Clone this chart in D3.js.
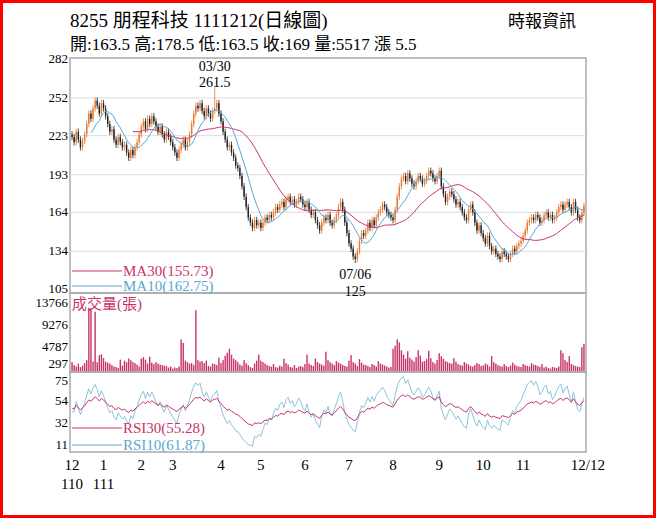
<!DOCTYPE html>
<html><head><meta charset="utf-8">
<script src="https://cdn.jsdelivr.net/npm/d3@7"></script>
<style>body{margin:0;background:#fff}svg text{font-family:"Liberation Serif","Noto Sans CJK TC",serif}</style>
</head><body><div id="chart"></div>
<script>
// daily closes, by month (2021/12/10 .. 2022/12/12)
const closes = [
  222,218,226,220,214,219,224,232,240,236,244,250,246,240,248,
  244,238,232,226,228,220,216,222,218,214,216,210,206,212,208,214,218,224,
  230,234,228,236,232,238,234,230,226,230,224,220,226,222,218,
  214,210,206,212,216,220,214,218,224,232,240,246,244,248,242,238,244,240,236,242,244,248,240,
  234,226,220,214,216,210,206,200,198,192,184,176,168,160,156,152,158,154,156,
  152,156,160,158,162,160,164,168,166,170,172,168,174,176,172,174,170,172,176,174,170,
  168,172,166,162,164,158,154,150,156,160,158,162,156,154,158,162,168,172,166,156,148,
  140,136,130,128,134,142,148,146,150,156,152,158,154,160,164,166,170,168,164,162,160,
  158,166,176,184,190,192,188,194,190,186,184,188,192,190,186,188,192,196,194,190,188,192,
  196,184,178,172,176,180,178,174,170,172,168,164,160,158,166,170,164,156,150,154,148,
  144,140,146,138,134,136,132,130,128,134,132,130,128,132,136,134,138,140,142,
  146,150,156,158,160,158,162,160,156,158,162,164,160,162,158,160,164,168,170,166,170,172,
  168,164,172,166,160,158,163.5,169
];
const volumes = [
  1800,1200,900,1500,800,1100,1600,2200,12800,12700,1900,12000,1800,3200,3400,
  2600,1900,1700,1500,1200,900,800,600,2300,1100,2100,1800,2500,2200,1800,1600,1300,900,
  2500,2800,2300,1500,2900,1700,1400,1800,1500,1300,1200,1100,1000,700,900,
  500,700,600,900,6400,5700,2100,1800,1500,1600,1200,12300,2200,1900,2000,1600,2100,1000,900,1500,1400,1200,2700,
  1600,2200,3100,3700,4500,3300,2500,2200,1800,1300,1100,2200,1600,1200,800,600,1500,2100,3300,
  2100,1800,1500,1200,1000,900,1400,800,700,1100,900,2500,1600,1300,800,700,1200,600,900,1000,800,
  1400,3300,1500,1200,1000,2500,1800,1500,1300,1100,3900,2200,1800,1500,1200,2000,1700,1500,1200,1000,900,
  2100,3200,1800,1500,1000,2400,1700,1300,1200,1000,800,1400,1200,900,2000,1500,1300,1100,900,700,800,
  4500,5100,6400,5800,4200,3300,2500,4000,2700,2300,1900,2800,4200,3100,1900,2000,2400,4100,2600,1800,1500,2200,
  3600,3000,2500,2000,1800,1600,1500,2600,1900,1400,1200,1100,1800,1500,1300,1000,900,1200,1600,1400,1000,
  1100,1500,1300,900,3000,1800,1500,1200,1000,900,1400,1000,800,1100,1700,1300,1000,900,800,
  1400,1200,1000,900,1600,1300,1200,1000,800,1400,700,900,600,500,800,700,600,900,4200,3600,2200,1800,
  3000,1400,1200,1000,900,800,4800,5517
];
const monthLabels = ["12","1","2","3","4","5","6","7","8","9","10","11","12/12"];
const monthStart = [0,15,33,48,71,90,111,132,153,175,196,215,244];
const priceTicks = [282,252,223,193,164,134,105];
const volTicks = [13766,9276,4787,297];
const rsiTicks = [75,54,32,11];

const W = 656, H = 518, L = 70, R = 586;
const svg = d3.select("#chart").append("svg").attr("width", W).attr("height", H);
svg.append("rect").attr("x",1.5).attr("y",1.5).attr("width",W-3).attr("height",H-3).attr("fill","none").attr("stroke","#f00").attr("stroke-width",3);

const n = closes.length;
const x = d3.scaleLinear().domain([-0.5, n - 0.5]).range([L + 1, R - 1]);
const yP = d3.scaleLinear().domain([105, 282]).range([289, 59]);
const yV = d3.scaleLinear().domain([0, 13766]).range([371, 303]);
const yR = d3.scaleLinear().domain([11, 75]).range([445, 379]);

// candles: open from previous close, wicks just beyond body
const candles = closes.map((c, i) => {
  const o = i ? closes[i - 1] : 224;
  return {i, o, c, h: Math.max(o, c) + 2.5, l: Math.min(o, c) - 2.5};
});
candles[68].h = 261.5;
candles[135].l = 125;

function ma(k) { return closes.map((c, i) => i < k - 1 ? null : d3.mean(closes.slice(i - k + 1, i + 1))); }
function rsi(k) {
  const out = []; let up = 2, dn = 2.2;
  for (let i = 1; i < n; i++) {
    const d = closes[i] - closes[i - 1];
    up = (up * (k - 1) + Math.max(d, 0)) / k;
    dn = (dn * (k - 1) + Math.max(-d, 0)) / k;
    out[i] = 100 * up / (up + dn);
  }
  out[0] = out[1];
  return out;
}

// panels
[[58, 293], [293, 372], [372, 452]].forEach(([t, b]) =>
  svg.append("rect").attr("x", L).attr("y", t).attr("width", R - L).attr("height", b - t)
    .attr("fill", "none").attr("stroke", "#aaa").attr("stroke-width", 1.5));
svg.selectAll(".pg").data(priceTicks.slice(1, 6)).join("line")
  .attr("x1", L).attr("x2", R).attr("y1", d => yP(d)).attr("y2", d => yP(d)).attr("stroke", "#ddd");

const tick = (vals, sc, cls) => svg.selectAll("." + cls).data(vals).join("text").attr("class", cls)
  .attr("x", L - 2).attr("y", d => sc(d) + 4).attr("text-anchor", "end").attr("font-size", 13).text(d => d);
tick(priceTicks, yP, "pt"); tick(volTicks, yV, "vt"); tick(rsiTicks, yR, "rt");
svg.selectAll(".vt").filter(d => d === 297).attr("y", 368);
svg.selectAll(".rt").filter(d => d === 75).attr("y", 385);

// candles
const cw = 1.4;
svg.selectAll(".wick").data(candles).join("line")
  .attr("x1", d => x(d.i)).attr("x2", d => x(d.i)).attr("y1", d => yP(d.h)).attr("y2", d => yP(d.l))
  .attr("stroke", d => d.c >= d.o ? "#e8772e" : "#222").attr("stroke-width", 0.8);
svg.selectAll(".body").data(candles).join("rect")
  .attr("x", d => x(d.i) - cw / 2).attr("width", cw)
  .attr("y", d => yP(Math.max(d.o, d.c))).attr("height", d => Math.max(1, Math.abs(yP(d.o) - yP(d.c))))
  .attr("fill", d => d.c >= d.o ? "#e8772e" : "#222");

const line = (sc) => d3.line().defined(d => d[1] != null).x(d => x(d[0])).y(d => sc(d[1]));
svg.append("path").attr("d", line(yP)(ma(30).map((v, i) => [i, v]))).attr("fill", "none").attr("stroke", "#c8336b");
svg.append("path").attr("d", line(yP)(ma(10).map((v, i) => [i, v]))).attr("fill", "none").attr("stroke", "#5aa8d2");

// volume
svg.selectAll(".vol").data(volumes).join("rect")
  .attr("x", (d, i) => x(i) - 0.7).attr("width", 1.4).attr("y", d => yV(d)).attr("height", d => yV(0) - yV(d))
  .attr("fill", "#c8336b");
svg.append("text").attr("x", 72).attr("y", 309).attr("font-size", 15).attr("fill", "#c8336b").text("成交量(張)");

// rsi
svg.append("path").attr("d", line(yR)(rsi(10).map((v, i) => [i, v]))).attr("fill", "none").attr("stroke", "#8cc3dc");
svg.append("path").attr("d", line(yR)(rsi(30).map((v, i) => [i, v]))).attr("fill", "none").attr("stroke", "#c8336b");

// legends
const leg = (y, col, txt) => {
  svg.append("line").attr("x1", 72).attr("x2", 122).attr("y1", y).attr("y2", y).attr("stroke", col);
  svg.append("text").attr("x", 123).attr("y", y + 5).attr("font-size", 15).attr("fill", col).text(txt);
};
leg(271, "#c8336b", "MA30(155.73)");
leg(286, "#5aa8d2", "MA10(162.75)");
leg(428, "#c8336b", "RSI30(55.28)");
leg(445, "#5aa8d2", "RSI10(61.87)");

// annotations
svg.append("text").attr("x", x(68)).attr("y", 71).attr("text-anchor", "middle").attr("font-size", 14).text("03/30");
svg.append("text").attr("x", x(68)).attr("y", 87).attr("text-anchor", "middle").attr("font-size", 14).text("261.5");
svg.append("text").attr("x", x(135)).attr("y", 279).attr("text-anchor", "middle").attr("font-size", 14).text("07/06");
svg.append("text").attr("x", x(135)).attr("y", 296).attr("text-anchor", "middle").attr("font-size", 14).text("125");

// month axis
svg.selectAll(".mo").data(monthLabels).join("text")
  .attr("x", (d, i) => i === 12 ? x(monthStart[i]) + 4 : x(monthStart[i]))
  .attr("y", 470).attr("text-anchor", "middle").attr("font-size", 15).text(d => d);
svg.append("text").attr("x", x(0)).attr("y", 489).attr("text-anchor", "middle").attr("font-size", 15).text("110");
svg.append("text").attr("x", x(15)).attr("y", 489).attr("text-anchor", "middle").attr("font-size", 15).text("111");

// titles
svg.append("text").attr("x", 70).attr("y", 27).attr("font-size", 19).text("8255  朋程科技 1111212(日線圖)");
svg.append("text").attr("x", 508).attr("y", 27).attr("font-size", 17).text("時報資訊");
svg.append("text").attr("x", 70).attr("y", 50).attr("font-size", 17).text("開:163.5 高:178.5 低:163.5 收:169 量:5517 漲 5.5");
</script></body></html>
